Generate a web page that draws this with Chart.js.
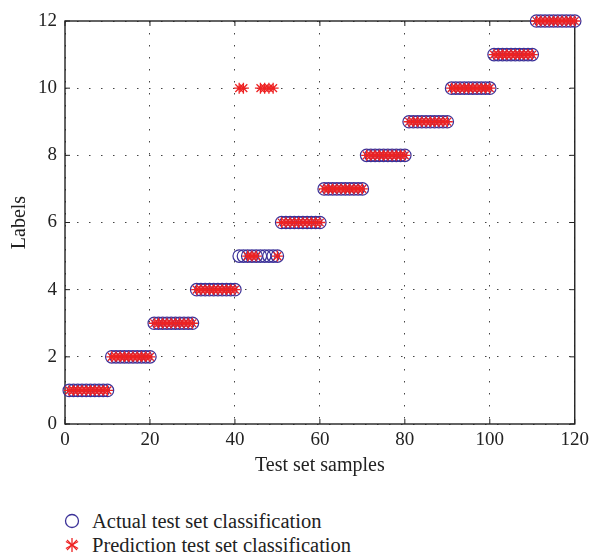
<!DOCTYPE html>
<html>
<head>
<meta charset="utf-8">
<script src="https://cdn.jsdelivr.net/npm/chart.js@4/dist/chart.umd.min.js"></script>
<style>
  body { margin: 0; background: #fff; }
  #wrap { position: relative; width: 594px; height: 490px; }
  .legend { position: absolute; left: 62px; font-family: 'Liberation Serif', serif; font-size: 20.5px; color: #222; }
  .legend div { height: 24px; display: flex; align-items: center; }
  .legend svg { margin-right: 10px; }
</style>
</head>
<body>
<div id="wrap"><canvas id="myChart" width="594" height="490"></canvas></div>
<div class="legend" style="top:509px">
  <div><svg width="20" height="20"><circle cx="10" cy="10" r="6.5" fill="none" stroke="#3b3198" stroke-width="1.3"/></svg>Actual test set classification</div>
  <div><svg width="20" height="20"><g stroke="#ee2222" stroke-width="1.3"><line x1="10" y1="3" x2="10" y2="17"/><line x1="3.9" y1="6.5" x2="16.1" y2="13.5"/><line x1="3.9" y1="13.5" x2="16.1" y2="6.5"/><line x1="5" y1="5" x2="15" y2="15"/><line x1="5" y1="15" x2="15" y2="5"/></g></svg>Prediction test set classification</div>
</div>
<script>
var samples = [
  1, 2, 3, 4, 5, 6, 7, 8, 9, 10, 11, 12, 13, 14, 15, 16, 17, 18, 19, 20,
  21, 22, 23, 24, 25, 26, 27, 28, 29, 30, 31, 32, 33, 34, 35, 36, 37, 38, 39, 40,
  41, 42, 43, 44, 45, 46, 47, 48, 49, 50, 51, 52, 53, 54, 55, 56, 57, 58, 59, 60,
  61, 62, 63, 64, 65, 66, 67, 68, 69, 70, 71, 72, 73, 74, 75, 76, 77, 78, 79, 80,
  81, 82, 83, 84, 85, 86, 87, 88, 89, 90, 91, 92, 93, 94, 95, 96, 97, 98, 99, 100,
  101, 102, 103, 104, 105, 106, 107, 108, 109, 110, 111, 112, 113, 114, 115, 116, 117, 118, 119, 120
];
var actual = [
  1, 1, 1, 1, 1, 1, 1, 1, 1, 1, 2, 2, 2, 2, 2, 2, 2, 2, 2, 2,
  3, 3, 3, 3, 3, 3, 3, 3, 3, 3, 4, 4, 4, 4, 4, 4, 4, 4, 4, 4,
  5, 5, 5, 5, 5, 5, 5, 5, 5, 5, 6, 6, 6, 6, 6, 6, 6, 6, 6, 6,
  7, 7, 7, 7, 7, 7, 7, 7, 7, 7, 8, 8, 8, 8, 8, 8, 8, 8, 8, 8,
  9, 9, 9, 9, 9, 9, 9, 9, 9, 9, 10, 10, 10, 10, 10, 10, 10, 10, 10, 10,
  11, 11, 11, 11, 11, 11, 11, 11, 11, 11, 12, 12, 12, 12, 12, 12, 12, 12, 12, 12
];
var predicted = [
  1, 1, 1, 1, 1, 1, 1, 1, 1, 1, 2, 2, 2, 2, 2, 2, 2, 2, 2, 2,
  3, 3, 3, 3, 3, 3, 3, 3, 3, 3, 4, 4, 4, 4, 4, 4, 4, 4, 4, 4,
  10, 10, 5, 5, 5, 10, 10, 10, 10, 5, 6, 6, 6, 6, 6, 6, 6, 6, 6, 6,
  7, 7, 7, 7, 7, 7, 7, 7, 7, 7, 8, 8, 8, 8, 8, 8, 8, 8, 8, 8,
  9, 9, 9, 9, 9, 9, 9, 9, 9, 9, 10, 10, 10, 10, 10, 10, 10, 10, 10, 10,
  11, 11, 11, 11, 11, 11, 11, 11, 11, 11, 12, 12, 12, 12, 12, 12, 12, 12, 12, 12
];
var xTicks = [0, 20, 40, 60, 80, 100, 120];
var yTicks = [0, 2, 4, 6, 8, 10, 12];

function toPoints(ys) {
  return samples.map(function (s, i) { return { x: s, y: ys[i] }; });
}

// box round the plot and matlab-style inward ticks
var frame = {
  id: 'frame',
  beforeDatasetsDraw: function (chart) {
    var ctx = chart.ctx, a = chart.chartArea, x = chart.scales.x, y = chart.scales.y;
    ctx.save();
    ctx.strokeStyle = '#222';
    ctx.lineWidth = 1.4;
    ctx.strokeRect(a.left, a.top, a.right - a.left, a.bottom - a.top);
    ctx.lineWidth = 1;
    ctx.beginPath();
    xTicks.forEach(function (v) {
      var px = x.getPixelForValue(v);
      ctx.moveTo(px, a.bottom); ctx.lineTo(px, a.bottom - 5);
      ctx.moveTo(px, a.top); ctx.lineTo(px, a.top + 5);
    });
    yTicks.forEach(function (v) {
      var py = y.getPixelForValue(v);
      ctx.moveTo(a.left, py); ctx.lineTo(a.left + 5, py);
      ctx.moveTo(a.right, py); ctx.lineTo(a.right - 5, py);
    });
    ctx.stroke();
    ctx.restore();
  }
};

var tickFont = { family: "'Liberation Serif', serif", size: 19 };
var titleFont = { family: "'Liberation Serif', serif", size: 20 };

var ctx = document.getElementById('myChart').getContext('2d');
var myChart = new Chart(ctx, {
  type: 'scatter',
  data: {
    datasets: [{
      label: 'Actual test set classification',
      data: toPoints(actual),
      pointStyle: 'circle',
      pointRadius: 6.2,
      pointBorderWidth: 1.2,
      borderColor: '#3b3198',
      backgroundColor: 'rgba(0,0,0,0)',
      clip: false,
      order: 2
    }, {
      label: 'Prediction test set classification',
      data: toPoints(predicted),
      pointStyle: 'star',
      pointRadius: 5.5,
      pointBorderWidth: 1.3,
      borderColor: '#ee2222',
      backgroundColor: '#ee2222',
      clip: false,
      order: 1
    }]
  },
  options: {
    responsive: false,
    animation: false,
    events: [],
    layout: { padding: { left: 0, right: 17, top: 21, bottom: 0 } },
    plugins: { legend: { display: false }, tooltip: { enabled: false } },
    scales: {
      x: {
        type: 'linear',
        min: 0,
        max: 120,
        afterBuildTicks: function (s) { s.ticks = xTicks.map(function (v) { return { value: v }; }); },
        afterFit: function (s) { s.height = 66; },
        grid: { color: '#444', lineWidth: 1, drawTicks: false },
        border: { display: false, dash: [1.5, 10.5] },
        ticks: { color: '#222', font: tickFont, padding: 5, maxRotation: 0, autoSkip: false },
        title: { display: true, text: 'Test set samples', color: '#222', font: titleFont, padding: { top: 0, bottom: 12 } }
      },
      y: {
        type: 'linear',
        min: 0,
        max: 12,
        afterBuildTicks: function (s) { s.ticks = yTicks.map(function (v) { return { value: v }; }); },
        afterFit: function (s) { s.width = 65; },
        grid: { color: '#444', lineWidth: 1, drawTicks: false },
        border: { display: false, dash: [1.5, 10.5] },
        ticks: { color: '#222', font: tickFont, padding: 8, autoSkip: false },
        title: { display: true, text: 'Labels', color: '#222', font: titleFont, padding: { top: 8, bottom: 0 } }
      }
    }
  },
  plugins: [frame]
});
</script>
</body>
</html>
